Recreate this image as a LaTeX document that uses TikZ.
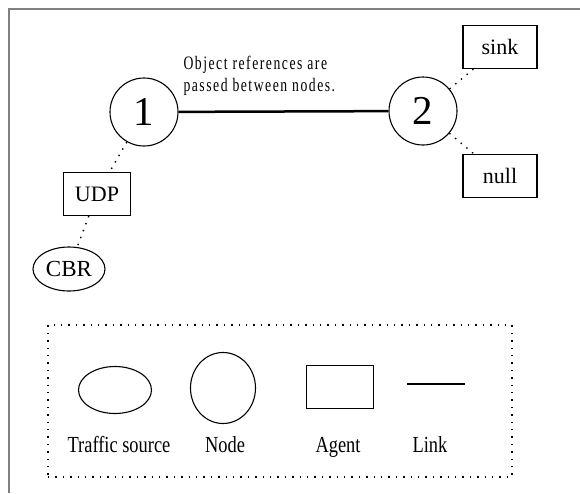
\documentclass[tikz,border=0pt]{standalone}
\usepackage{fontspec}
\setmainfont{Liberation Serif}
\newfontfamily\spacedserif[LetterSpace=8, FakeStretch=0.72]{Liberation Serif}
\newfontfamily\narrowserif[FakeStretch=0.8]{Liberation Serif}
\usetikzlibrary{shapes.geometric, positioning}
\definecolor{framegray}{RGB}{128, 128, 128}

\begin{document}
\begin{tikzpicture}[
    x=1pt, y=-1pt,
    netnode/.style={circle, draw, line width=1.1pt, minimum size=68pt, inner sep=0pt, font=\fontsize{41}{41}\selectfont},
    agent/.style={rectangle, draw, line width=1.1pt, minimum width=74pt, minimum height=43pt, inner sep=0pt, font=\fontsize{22}{22}\selectfont},
    source/.style={ellipse, draw, line width=1.1pt, minimum width=72pt, minimum height=44pt, inner sep=0pt, font=\fontsize{23}{23}\selectfont},
    link/.style={line width=2.5pt},
    attach/.style={line width=1.4pt, dash pattern=on 1.4pt off 6pt},
    legendtext/.style={anchor=base, font=\narrowserif\fontsize{23}{23}\selectfont}
]
\useasboundingbox (0,0) rectangle (580,493);

% Frame
\draw [framegray, line width=1.5pt] (580,9) -- (9,9) -- (9,493);

% Network
\node (n1) [netnode] at (144,112) {1};
\node (n2) [netnode] at (423,111) {2};
\node (sink) [agent] at (500,47) {sink};
\node (null) [agent] at (500,176) {null};
\node (udp) [agent, minimum width=67pt] at (97,194) {UDP};
\node (cbr) [source] at (69,269) {CBR};
\node (note) [anchor=west, align=left, font=\spacedserif\fontsize{19}{22}\selectfont] at (180,76) {Object references are\\passed between nodes.};

% Connections
\draw [link] (n1) -- (n2);
\foreach \from/\to in {n1/udp, udp/cbr, n2/sink, n2/null} {
    \draw [attach] (\from) -- (\to);
}

% Legend
\node (legend) [draw, attach, minimum width=464pt, minimum height=152pt] at (280,401) {};
\node (lsource) [source, minimum width=73pt, minimum height=47pt] at (115,390) {};
\node (lnode) [ellipse, draw, line width=1.1pt, minimum width=65pt, minimum height=71pt] at (223,388) {};
\node (lagent) [agent, minimum width=67pt] at (340,387) {};
\coordinate (llinea) at (407,384);
\coordinate (llineb) at (465,384);
\draw [line width=1.1pt] (llinea) -- (llineb);

\node (tsource) [legendtext] at (119,452) {Traffic source};
\node (tnode) [legendtext] at (225,452) {Node};
\node (tagent) [legendtext] at (338,452) {Agent};
\node (tlink) [legendtext] at (430,452) {Link};

\end{tikzpicture}
\end{document}
